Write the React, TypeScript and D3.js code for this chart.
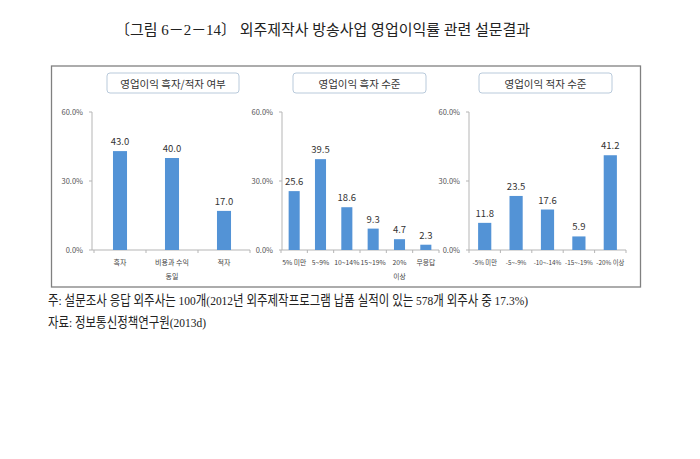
import React from 'react';
import * as d3 from 'd3';

// 영업이익 흑자/적자 여부
const cats1 = ['흑자', '비용과 수익\n동일', '적자'];
const vals1 = [43.0, 40.0, 17.0];
// 영업이익 흑자 수준
const cats2 = ['5% 미만', '5~9%', '10~14%', '15~19%', '20%\n이상', '무응답'];
const vals2 = [25.6, 39.5, 18.6, 9.3, 4.7, 2.3];
// 영업이익 적자 수준
const cats3 = ['-5% 미만', '-5~-9%', '-10~-14%', '-15~-19%', '-20% 이상'];
const vals3 = [11.8, 23.5, 17.6, 5.9, 41.2];

const yTicks = [0, 30, 60];

const titleText = '〔그림 6－2－14〕  외주제작사 방송사업 영업이익률 관련 설문결과';
const note1 = '주: 설문조사 응답 외주사는 100개(2012년 외주제작프로그램 납품 실적이 있는 578개 외주사 중 17.3%)';
const note2 = '자료: 정보통신정책연구원(2013d)';

const BAR = '#5393d6';
const SANS = '"Noto Sans CJK KR", "Noto Sans", sans-serif';
const SERIF = '"Liberation Serif", "Noto Sans CJK KR", serif';

type PanelProps = {
  title: string;
  cats: string[];
  vals: number[];
  axisX: number;
  x0: number;
  x1: number;
  pad: number;
  boxX: number;
  boxW: number;
  catSize: number;
};

const Y0 = 250;
const Y1 = 112;

const Panel = ({ title, cats, vals, axisX, x0, x1, pad, boxX, boxW, catSize }: PanelProps) => {
  const x = d3.scaleBand<string>().domain(cats).range([x0, x1]).paddingInner(pad).paddingOuter(pad / 2);
  const y = d3.scaleLinear().domain([0, 60]).range([Y0, Y1]);
  const step = x.step();
  const bounds = d3.range(cats.length + 1).map(i => x0 + i * step);

  return (
    <g>
      <rect x={boxX} y={73} width={boxW} height={20} rx={3} fill="#fff" stroke="#b9cadb" strokeWidth={1} />
      <text x={boxX + boxW / 2} y={87.5} textAnchor="middle" fontSize={10.5} fill="#333" fontFamily={SANS}>{title}</text>

      <line x1={axisX} x2={axisX} y1={Y1} y2={Y0} stroke="#b5b5b5" />
      {yTicks.map(t => (
        <g key={t}>
          <line x1={axisX - 3} x2={axisX} y1={y(t)} y2={y(t)} stroke="#b5b5b5" />
          <text x={axisX - 9} y={y(t) + 2.5} textAnchor="end" fontSize={7.5} fill="#555" fontFamily={SANS}>
            {t.toFixed(1)}%
          </text>
        </g>
      ))}
      <line x1={axisX} x2={x1} y1={Y0} y2={Y0} stroke="#b5b5b5" />
      {bounds.map((b, i) => (
        <line key={i} x1={b} x2={b} y1={Y0} y2={Y0 + 3} stroke="#b5b5b5" />
      ))}

      {cats.map((c, i) => {
        const cx = (x(c) as number) + x.bandwidth() / 2;
        return (
          <g key={c}>
            <rect x={x(c)} y={y(vals[i])} width={x.bandwidth()} height={Y0 - y(vals[i])} fill={BAR} />
            <text x={cx} y={y(vals[i]) - 6} textAnchor="middle" fontSize={9.5} fill="#333" fontFamily={SANS}>
              {vals[i].toFixed(1)}
            </text>
            {c.split('\n').map((line, j) => (
              <text key={j} x={cx} y={265 + j * 14} textAnchor="middle" fontSize={catSize} fill="#444" fontFamily={SANS}>
                {line}
              </text>
            ))}
          </g>
        );
      })}
    </g>
  );
};

const App = () => {
  return (
    <svg width={700} height={459} style={{ position: 'absolute', left: 0, top: 0, background: '#fff' }}>
      <rect x={0} y={0} width={700} height={459} fill="#fff" />
      <text x={115} y={35} fontSize={15} fill="#222" fontFamily={SERIF} textLength={415}
        lengthAdjust="spacingAndGlyphs">{titleText}</text>

      <rect x={51.5} y={66} width={589} height={221} fill="#fff" stroke="#808080" strokeWidth={1.3} />

      <Panel title="영업이익 흑자/적자 여부" cats={cats1} vals={vals1} axisX={92} x0={94} x1={250} pad={0.73}
        boxX={107} boxW={132} catSize={7} />
      <Panel title="영업이익 흑자 수준" cats={cats2} vals={vals2} axisX={282} x0={281} x1={439} pad={0.58}
        boxX={293} boxW={133} catSize={6.8} />
      <Panel title="영업이익 적자 수준" cats={cats3} vals={vals3} axisX={469} x0={469} x1={626} pad={0.58}
        boxX={479} boxW={133} catSize={6.3} />

      <text x={48} y={305} fontSize={13.5} fill="#222" fontFamily={SERIF} textLength={480}
        lengthAdjust="spacingAndGlyphs">{note1}</text>
      <text x={48} y={327} fontSize={13.5} fill="#222" fontFamily={SERIF} textLength={158}
        lengthAdjust="spacingAndGlyphs">{note2}</text>
    </svg>
  );
};

export default App;
